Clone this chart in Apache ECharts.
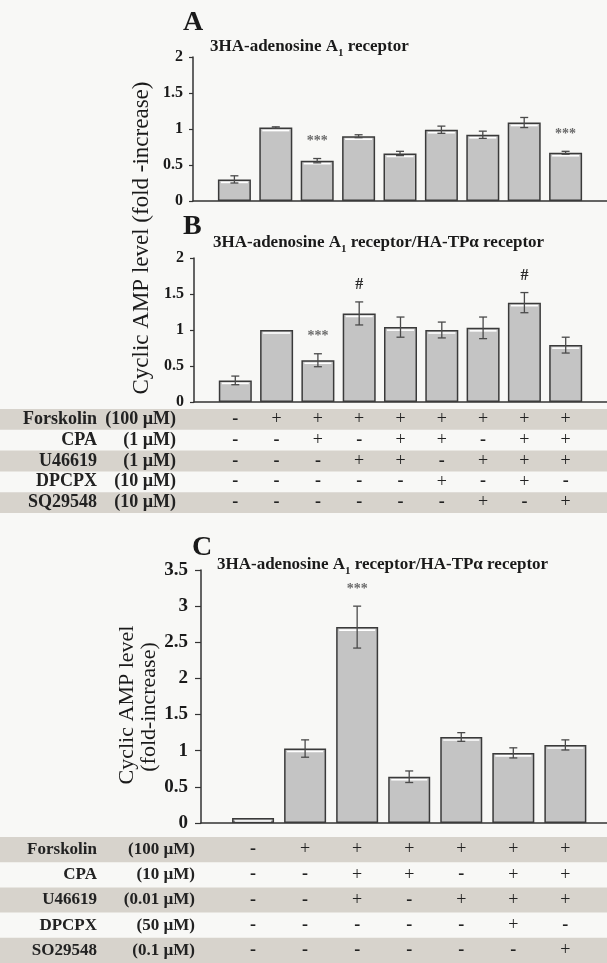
<!DOCTYPE html>
<html>
<head>
<meta charset="utf-8">
<script src="https://cdn.jsdelivr.net/npm/echarts@6/dist/echarts.min.js"></script>
<style>
  html, body { margin: 0; padding: 0; background: #f8f8f6; }
  #chart { width: 607px; height: 963px; }
</style>
</head>
<body>
<div id="chart"></div>
<script>
// panel A: 3HA-adenosine A1 receptor
const valsA = [0.30, 1.02, 0.56, 0.90, 0.66, 0.99, 0.92, 1.09, 0.67];
const errA = [0.05, 0.01, 0.03, 0.02, 0.03, 0.05, 0.05, 0.07, 0.02];
const marksA = ['', '', '***', '', '', '', '', '', '***'];

// panel B: A1 / TP alpha
const valsB = [0.30, 1.00, 0.58, 1.23, 1.04, 1.00, 1.03, 1.38, 0.79];
const errB = [0.06, 0, 0.09, 0.16, 0.14, 0.11, 0.15, 0.14, 0.11];
const marksB = ['', '', '***', '#', '', '', '', '#', ''];

const rowsB = ['Forskolin', 'CPA', 'U46619', 'DPCPX', 'SQ29548'];
const dosesB = ['(100 µM)', '(1 µM)', '(1 µM)', '(10 µM)', '(10 µM)'];
const signsB = [
  '-++++++++',
  '--+-++-++',
  '---++-+++',
  '-----+-+-',
  '------+-+'
];

// panel C
const valsC = [0.07, 1.03, 2.71, 0.64, 1.19, 0.97, 1.08];
const errC = [0, 0.12, 0.29, 0.08, 0.06, 0.07, 0.07];
const marksC = ['', '', '***', '', '', '', ''];

const rowsC = ['Forskolin', 'CPA', 'U46619', 'DPCPX', 'SO29548'];
const dosesC = ['(100 µM)', '(10 µM)', '(0.01 µM)', '(50 µM)', '(0.1 µM)'];
const signsC = [
  '-++++++',
  '--++-++',
  '--+-+++',
  '-----+-',
  '------+'
];

const SERIF = '"Liberation Serif", "Times New Roman", serif';
const INK = '#1a1a1a';

const chart = echarts.init(document.getElementById('chart'));

function barData(vals) {
  return vals.map(function (v, i) { return [i + 1, v]; });
}

function errData(vals, errs) {
  return vals.map(function (v, i) { return [i + 1, v, errs[i]]; });
}

// highlight stripe, error bar and significance mark on top of each bar
function errRender(barW, marks) {
  return function (params, api) {
    const x = api.value(0);
    const v = api.value(1);
    const e = api.value(2);
    const top = api.coord([x, v]);
    const children = [{
      type: 'line',
      shape: { x1: top[0] - barW / 2 + 3, y1: top[1] + 3, x2: top[0] + barW / 2 - 3, y2: top[1] + 3 },
      style: { stroke: '#ffffff', lineWidth: 1.6 }
    }];
    const hi = api.coord([x, v + e]);
    if (e > 0) {
      const lo = api.coord([x, v - e]);
      const st = { stroke: '#4a4a4a', lineWidth: 1.3 };
      children.push({ type: 'line', shape: { x1: hi[0], y1: hi[1], x2: lo[0], y2: lo[1] }, style: st });
      children.push({ type: 'line', shape: { x1: hi[0] - 4, y1: hi[1], x2: hi[0] + 4, y2: hi[1] }, style: st });
      children.push({ type: 'line', shape: { x1: lo[0] - 4, y1: lo[1], x2: lo[0] + 4, y2: lo[1] }, style: st });
    }
    const m = marks[params.dataIndex];
    if (m) {
      const star = m.indexOf('*') >= 0;
      children.push({
        type: 'text', x: hi[0], y: hi[1] - 17,
        style: {
          text: m, align: 'center', verticalAlign: 'middle',
          fontFamily: SERIF, fontWeight: 'bold', fontSize: star ? 14 : 16,
          fill: star ? '#6a6a6a' : '#2a2a2a'
        }
      });
    }
    return { type: 'group', children: children };
  };
}

function bandData(rows) {
  const out = [];
  for (let i = 0; i < rows.length; i += 2) out.push([0, i]);
  return out;
}

function bandRender(params, api) {
  const p = api.coord([0, api.value(1)]);
  const h = api.size([0, 1])[1];
  return {
    type: 'rect',
    shape: { x: 0, y: p[1] - h / 2, width: api.getWidth(), height: h },
    style: { fill: '#d7d3cc' }
  };
}

function signData(signs) {
  const out = [];
  const chars = [];
  signs.forEach(function (row, r) {
    for (let c = 0; c < row.length; c++) {
      out.push([c + 1, r]);
      chars.push(row[c]);
    }
  });
  return { data: out, chars: chars };
}

function signRender(chars, size) {
  return function (params, api) {
    const p = api.coord([api.value(0), api.value(1)]);
    const ch = chars[params.dataIndex];
    return {
      type: 'text', x: p[0], y: p[1],
      style: {
        text: ch, align: 'center', verticalAlign: 'middle',
        fontFamily: SERIF, fontWeight: ch === '-' ? 'bold' : 'normal',
        fontSize: size, fill: '#222'
      }
    };
  };
}

function barX(gridIndex, max, show) {
  return {
    type: 'value', gridIndex: gridIndex, min: 0, max: max,
    axisLine: { show: show, onZero: false, lineStyle: { color: '#333', width: 1.5 } },
    axisTick: { show: false }, axisLabel: { show: false }, splitLine: { show: false }
  };
}

function valueY(gridIndex, max, tickLen, fontSize, margin) {
  return {
    type: 'value', gridIndex: gridIndex, min: 0, max: max, interval: 0.5,
    axisLine: { show: true, lineStyle: { color: '#333', width: 1.5 } },
    axisTick: { show: true, length: tickLen, lineStyle: { color: '#333', width: 1.2 } },
    axisLabel: { color: INK, fontFamily: SERIF, fontWeight: 'bold', fontSize: fontSize, margin: margin },
    splitLine: { show: false }
  };
}

function tableY(gridIndex, rows, doses, fontSize, doseW, margin) {
  const txt = { fontFamily: SERIF, fontWeight: 'bold', fontSize: fontSize, color: '#222' };
  return {
    type: 'category', gridIndex: gridIndex, data: rows, inverse: true, z: 10,
    axisLine: { show: false }, axisTick: { show: false }, splitLine: { show: false },
    axisLabel: {
      margin: margin,
      formatter: function (v, i) { return '{n|' + v + '}{d|' + doses[i] + '}'; },
      rich: {
        n: Object.assign({ width: 100, align: 'right' }, txt),
        d: Object.assign({ width: doseW, align: 'right' }, txt)
      }
    }
  };
}

const sB = signData(signsB);
const sC = signData(signsC);

const barStyle = { color: '#c4c4c4', borderColor: '#3a3a3a', borderWidth: 1.5 };
const titleRich = { s: { fontSize: 11, fontWeight: 'bold', fontFamily: SERIF, verticalAlign: 'bottom', lineHeight: 24 } };

function titleText(x, y, text) {
  return {
    type: 'text', x: x, y: y,
    style: {
      text: text, verticalAlign: 'middle', fontFamily: SERIF, fontWeight: 'bold',
      fontSize: 17, lineHeight: 24, fill: INK, rich: titleRich
    }
  };
}

function letter(x, y, t) {
  return {
    type: 'text', x: x, y: y,
    style: { text: t, verticalAlign: 'middle', fontFamily: SERIF, fontWeight: 'bold', fontSize: 28, fill: INK }
  };
}

const option = {
  backgroundColor: '#f8f8f6',
  animation: false,
  grid: [
    { left: 193, top: 57, width: 414, height: 144 },
    { left: 194, top: 258, width: 418, height: 144 },
    { left: 194, top: 409, width: 418, height: 104 },
    { left: 201, top: 570, width: 406, height: 253 },
    { left: 201, top: 837, width: 406, height: 132 }
  ],
  xAxis: [
    barX(0, 10, true),
    barX(1, 10, true),
    barX(2, 10, false),
    barX(3, 7.8, true),
    barX(4, 7.8, false)
  ],
  yAxis: [
    valueY(0, 2, 4, 16, 10),
    valueY(1, 2, 4, 16, 10),
    tableY(2, rowsB, dosesB, 18, 79, 18),
    valueY(3, 3.5, 6, 19, 13),
    tableY(4, rowsC, dosesC, 17, 98, 6)
  ],
  graphic: [
    letter(183, 23, 'A'),
    titleText(210, 47, '3HA-adenosine A{s|1} receptor'),
    letter(183, 227, 'B'),
    titleText(213, 243, '3HA-adenosine A{s|1} receptor/HA-TPα receptor'),
    letter(192, 548, 'C'),
    titleText(217, 565, '3HA-adenosine A{s|1} receptor/HA-TPα receptor'),
    {
      type: 'text', x: 142, y: 238, rotation: Math.PI / 2,
      style: {
        text: 'Cyclic AMP level (fold -increase)', align: 'center', verticalAlign: 'middle',
        fontFamily: SERIF, fontSize: 23, fill: INK
      }
    },
    {
      type: 'text', x: 127, y: 705, rotation: Math.PI / 2,
      style: {
        text: 'Cyclic AMP level', align: 'center', verticalAlign: 'middle',
        fontFamily: SERIF, fontSize: 22, fill: INK
      }
    },
    {
      type: 'text', x: 149, y: 707, rotation: Math.PI / 2,
      style: {
        text: '(fold-increase)', align: 'center', verticalAlign: 'middle',
        fontFamily: SERIF, fontSize: 22, fill: INK
      }
    }
  ],
  series: [
    { type: 'bar', xAxisIndex: 0, yAxisIndex: 0, barWidth: 33, itemStyle: barStyle, data: barData(valsA) },
    { type: 'custom', xAxisIndex: 0, yAxisIndex: 0, z: 4, renderItem: errRender(33, marksA), data: errData(valsA, errA) },

    { type: 'bar', xAxisIndex: 1, yAxisIndex: 1, barWidth: 33, itemStyle: barStyle, data: barData(valsB) },
    { type: 'custom', xAxisIndex: 1, yAxisIndex: 1, z: 4, renderItem: errRender(33, marksB), data: errData(valsB, errB) },

    { type: 'custom', xAxisIndex: 2, yAxisIndex: 2, z: 1, renderItem: bandRender, data: bandData(rowsB) },
    { type: 'custom', xAxisIndex: 2, yAxisIndex: 2, z: 4, renderItem: signRender(sB.chars, 18), data: sB.data },

    { type: 'bar', xAxisIndex: 3, yAxisIndex: 3, barWidth: 42, itemStyle: barStyle, data: barData(valsC) },
    { type: 'custom', xAxisIndex: 3, yAxisIndex: 3, z: 4, renderItem: errRender(42, marksC), data: errData(valsC, errC) },

    { type: 'custom', xAxisIndex: 4, yAxisIndex: 4, z: 1, renderItem: bandRender, data: bandData(rowsC) },
    { type: 'custom', xAxisIndex: 4, yAxisIndex: 4, z: 4, renderItem: signRender(sC.chars, 18), data: sC.data }
  ]
};

chart.setOption(option);
</script>
</body>
</html>
